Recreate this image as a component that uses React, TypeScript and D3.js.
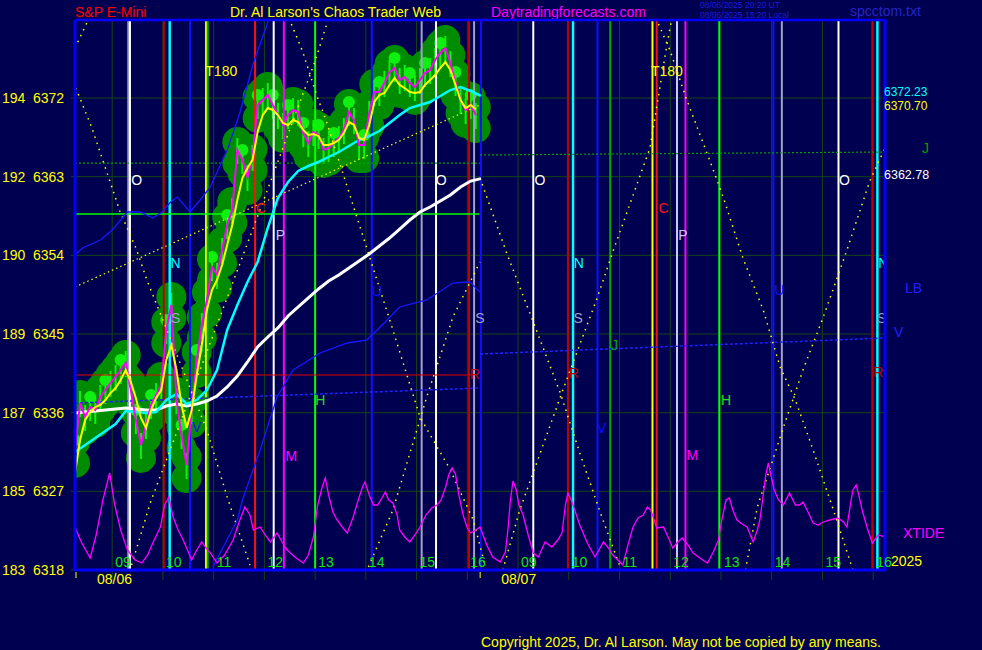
import React, { useEffect } from 'react';
import * as d3 from 'd3';

const FONT = '"Liberation Sans", Arial, Helvetica, sans-serif';
const BG = '#000050';

// ---------- time axis: minutes from 08/06 08:16, overnight gap compressed ----------
const sessionDates = ['08/06', '08/07'];
const sessionStartMin = [0, 478];
const sessionFirstHourMin = [44, 524];
const sessionHours = [9, 10, 11, 12, 13, 14, 15, 16];

// ---------- price axis ----------
const priceTicks = [6318, 6327, 6336, 6345, 6354, 6363, 6372];
const altTicks = [183, 185, 187, 189, 190, 192, 194];

// ---------- price series (6-minute steps) ----------
const priceStepMin = 6;
const closePrices = [
  6331.73, 6337.10, 6335.50, 6336.65, 6336.30, 6337.79, 6338.59, 6339.39, 6340.08, 6340.88,
  6341.68, 6338.59, 6335.16, 6332.30, 6334.59, 6336.88, 6338.02, 6339.16, 6345.46, 6348.32,
  6337.45, 6333.44, 6330.01, 6336.30, 6342.02, 6346.03, 6348.89, 6352.66, 6351.75, 6354.61,
  6357.47, 6359.19, 6366.05, 6364.91, 6362.96, 6365.25, 6371.20, 6371.77, 6372.34, 6371.20,
  6370.05, 6368.91, 6370.05, 6370.63, 6370.40, 6367.99, 6366.85, 6368.11, 6367.77, 6366.05,
  6366.28, 6366.85, 6367.42, 6368.34, 6370.40, 6369.48, 6366.62, 6366.62, 6370.28, 6372.68,
  6372.68, 6373.71, 6374.97, 6375.43, 6374.06, 6374.40, 6373.71, 6373.26, 6374.06, 6374.86,
  6375.20, 6376.35, 6377.15, 6377.72, 6376.00, 6373.83, 6371.77, 6370.63, 6371.20, 6370.05,
];
const smoothPrices = [
  6329.10, 6332.87, 6335.16, 6336.08, 6336.65, 6336.88, 6337.45, 6338.25, 6338.82, 6339.74,
  6340.88, 6339.51, 6337.68, 6335.39, 6334.25, 6336.30, 6337.68, 6338.59, 6342.02, 6343.74,
  6340.88, 6336.88, 6334.25, 6336.30, 6340.31, 6343.74, 6347.74, 6350.03, 6351.18, 6352.89,
  6355.18, 6357.47, 6360.33, 6362.85, 6363.99, 6364.91, 6368.11, 6370.05, 6370.85, 6370.63,
  6370.05, 6369.14, 6368.91, 6369.48, 6369.25, 6368.34, 6367.77, 6367.88, 6367.65, 6366.62,
  6366.62, 6366.85, 6367.19, 6367.99, 6369.25, 6368.91, 6367.42, 6367.19, 6368.91, 6371.54,
  6372.34, 6372.57, 6373.49, 6374.29, 6373.49, 6373.14, 6372.68, 6372.57, 6372.68, 6373.49,
  6374.06, 6374.63, 6375.43, 6376.12, 6375.20, 6373.49, 6371.77, 6370.85, 6371.20, 6370.70,
];

// ---------- moving averages (12-minute steps) ----------
const maStepMin = 12;
const cyanMA = [
  6331.50, 6332.30, 6333.10, 6333.90, 6334.70, 6336.19, 6336.08, 6335.96, 6336.08, 6337.45,
  6338.14, 6336.99, 6337.45, 6338.59, 6340.88, 6345.46, 6348.32, 6350.95, 6353.24, 6357.13,
  6360.56, 6362.39, 6363.65, 6364.22, 6364.68, 6365.25, 6365.82, 6366.51, 6367.19, 6367.65,
  6368.22, 6369.14, 6370.05, 6370.85, 6371.20, 6371.54, 6372.23, 6372.91, 6373.26, 6372.80, 6372.23,
];
const whiteMA = [
  6335.96, 6336.08, 6336.19, 6336.30, 6336.42, 6336.53, 6336.42, 6336.30, 6336.30, 6336.76,
  6336.99, 6336.76, 6336.99, 6337.33, 6337.91, 6338.94, 6340.19, 6341.80, 6343.51, 6344.66,
  6345.69, 6347.06, 6348.09, 6349.12, 6350.15, 6351.06, 6351.75, 6352.55, 6353.35, 6354.15,
  6355.07, 6355.98, 6357.01, 6358.04, 6358.96, 6359.53, 6360.21, 6360.90, 6361.82, 6362.50, 6362.78,
];

// ---------- blue series [minute, price] ----------
const blueLineA: [number, number][] = [
  [0, 6354.04], [9, 6354.84], [30, 6355.75], [44, 6356.90], [62, 6358.96], [77, 6358.96],
  [92, 6358.27], [103, 6358.96], [112, 6359.99], [121, 6360.67], [136, 6358.96], [148, 6360.33],
  [160, 6361.82], [180, 6366.05], [195, 6370.28], [211, 6376.00], [227, 6380.35], [232, 6382.0],
];
const blueLineB: [number, number][] = [
  [163, 6318.34], [192, 6323.72], [198, 6326.01], [219, 6331.73], [239, 6337.79], [258, 6340.88],
  [290, 6342.83], [322, 6343.97], [345, 6344.31], [361, 6345.80], [384, 6348.09], [416, 6348.89],
  [447, 6350.83], [467, 6350.95], [479, 6349.80],
];

// ---------- time/price dotted curves [minute, price] ----------
const tpCurves: [number, number][][] = [
  [[0, 6377.72], [15, 6380.81]],
  [[1, 6373.14], [20, 6368.57], [32, 6365.13], [44, 6361.70], [53, 6359.07], [73, 6354.61], [85, 6351.18], [156, 6334.02], [180, 6326.35], [207, 6318.57]],
  [[67, 6318.57], [89, 6325.67], [221, 6359.76], [284, 6376.23], [300, 6381.15]],
  [[253, 6381.15], [269, 6377.38], [287, 6372.00], [296, 6369.71], [376, 6345.46], [408, 6335.50], [444, 6329.44], [471, 6323.72], [485, 6318.57]],
  [[347, 6318.34], [376, 6324.86], [416, 6337.79], [447, 6346.94], [479, 6353.24]],
  [[479, 6362.85], [511, 6354.15], [547, 6345.11], [574, 6338.25], [597, 6331.39], [621, 6324.64], [646, 6318.0]],
  [[506, 6318.0], [526, 6324.86], [577, 6338.59], [618, 6349.23], [636, 6354.38], [680, 6366.28], [700, 6378.06], [706, 6381.15]],
  [[687, 6381.15], [704, 6377.38], [724, 6371.66], [751, 6364.79], [767, 6360.56], [790, 6353.69], [814, 6347.74], [834, 6341.22], [852, 6337.45], [873, 6331.73], [897, 6324.86], [920, 6318.0]],
  [[793, 6318.0], [807, 6325.21], [838, 6334.36], [861, 6340.88], [885, 6346.94], [913, 6354.61], [940, 6362.50], [958, 6366.28]],
];

// ---------- level segments ----------
const levelSegments = [
  { kind: 'jdots', m0: 0, p0: 6364.56, m1: 479, p1: 6364.56 },
  { kind: 'jdots', m0: 479, p0: 6365.48, m1: 958, p1: 6365.82 },
  { kind: 'lime', m0: 0, p0: 6358.73, m1: 478, p1: 6358.73 },
  { kind: 'red', m0: 0, p0: 6340.31, m1: 470, p1: 6340.31 },
  { kind: 'vdots', m0: 0, p0: 6337.10, m1: 479, p1: 6338.82 },
  { kind: 'vdots', m0: 479, p0: 6342.71, m1: 958, p1: 6344.54 },
  { kind: 'trend', m0: 0, p0: 6350.38, m1: 479, p1: 6371.20 },
];

// ---------- vertical event lines ----------
const eventLines = [
  { m: 63, kind: 'grey' }, { m: 65, kind: 'white' }, { m: 105, kind: 'darkred' }, { m: 112, kind: 'cyan' },
  { m: 136, kind: 'blue' }, { m: 155, kind: 'yellow' }, { m: 157, kind: 'green' }, { m: 213, kind: 'red' },
  { m: 235, kind: 'white' }, { m: 247, kind: 'magenta' }, { m: 284, kind: 'lime' }, { m: 351, kind: 'blue' },
  { m: 410, kind: 'grey' }, { m: 427, kind: 'white' }, { m: 466, kind: 'darkred' }, { m: 472, kind: 'grey' },
  { m: 480, kind: 'blue' },
  { m: 542, kind: 'white' }, { m: 583, kind: 'darkred' }, { m: 589, kind: 'cyan' }, { m: 618, kind: 'blue' },
  { m: 633, kind: 'green' }, { m: 683, kind: 'yellow' }, { m: 688, kind: 'red' }, { m: 712, kind: 'lavender' },
  { m: 722, kind: 'magenta' }, { m: 762, kind: 'lime' }, { m: 826, kind: 'blue' }, { m: 836, kind: 'grey' },
  { m: 903, kind: 'white' }, { m: 943, kind: 'darkred' }, { m: 949, kind: 'cyan' },
];

// ---------- letters ----------
const letters = [
  { t: 'O', m: 73, p: 6362.6, kind: 'white' }, { t: 'N', m: 119, p: 6353.1, kind: 'cyan' },
  { t: 'S', m: 119, p: 6346.8, kind: 'grey' }, { t: 'V', m: 144, p: 6334.4, kind: 'blue' },
  { t: 'T180', m: 173, p: 6375.1, kind: 'yellow' }, { t: 'C', m: 220, p: 6359.4, kind: 'red' },
  { t: 'P', m: 243, p: 6356.3, kind: 'lavender' }, { t: 'M', m: 256, p: 6331.0, kind: 'magenta' },
  { t: 'H', m: 290, p: 6337.4, kind: 'hgreen' }, { t: 'U', m: 357, p: 6349.9, kind: 'blue' },
  { t: 'O', m: 433, p: 6362.6, kind: 'white' }, { t: 'R', m: 473, p: 6340.4, kind: 'darkred' },
  { t: 'S', m: 479, p: 6346.8, kind: 'grey' },
  { t: 'O', m: 550, p: 6362.6, kind: 'white' }, { t: 'R', m: 590, p: 6340.5, kind: 'darkred' },
  { t: 'S', m: 595, p: 6346.8, kind: 'grey' }, { t: 'N', m: 596, p: 6353.1, kind: 'cyan' },
  { t: 'V', m: 623, p: 6334.2, kind: 'blue' }, { t: 'J', m: 638, p: 6343.7, kind: 'green' },
  { t: 'C', m: 696, p: 6359.4, kind: 'red' }, { t: 'T180', m: 700, p: 6375.1, kind: 'yellow' },
  { t: 'P', m: 719, p: 6356.3, kind: 'lavender' }, { t: 'M', m: 730, p: 6331.2, kind: 'magenta' },
  { t: 'H', m: 770, p: 6337.4, kind: 'hgreen' }, { t: 'U', m: 833, p: 6350.0, kind: 'blue' },
  { t: 'O', m: 910, p: 6362.6, kind: 'white' }, { t: 'R', m: 950, p: 6340.7, kind: 'darkred' },
  { t: 'S', m: 954, p: 6346.8, kind: 'grey' }, { t: 'N', m: 956, p: 6353.1, kind: 'cyan' },
];

// ---------- XTIDE oscillator ----------
const tideMinutes = [
  0, 8, 18, 25, 33, 41, 47, 54, 62, 71, 79, 86, 92, 101, 106, 111, 116, 122, 128, 134,
  138, 144, 150, 155, 160, 168, 177, 187, 195, 201, 207, 211, 219, 225, 231, 239, 245, 251, 260, 270,
  276, 282, 287, 292, 296, 300, 305, 310, 317, 322, 329, 335, 340, 343, 348, 353, 358, 363, 367, 371,
  376, 381, 384, 390, 396, 402, 408, 415, 422, 428, 433, 438, 442, 446, 450, 454, 459, 464, 468, 474,
  479, 487, 494, 503, 509, 512, 515, 518, 522, 525, 530, 536, 542, 548, 556, 564, 571, 576, 580, 583,
  587, 591, 597, 606, 615, 625, 631, 636, 642, 648, 654, 660, 666, 672, 677, 681, 688, 696, 702, 707,
  713, 718, 725, 731, 739, 748, 755, 761, 765, 770, 774, 778, 783, 789, 795, 802, 807, 810, 814, 817,
  820, 823, 827, 832, 838, 845, 852, 857, 861, 867, 873, 879, 885, 893, 902, 909, 913, 917, 920, 924,
  927, 931, 937, 943, 950, 958,
];
const tideValues = [
  43, 27, 12, 35, 70, 97, 65, 40, 20, 10, 7, 15, 27, 43, 65, 73, 53, 40, 30, 18,
  10, 20, 28, 22, 17, 7, 15, 30, 50, 63, 55, 40, 43, 35, 28, 37, 28, 20, 13, 7,
  15, 33, 65, 82, 92, 75, 58, 50, 42, 37, 53, 70, 83, 88, 75, 65, 65, 72, 78, 70,
  67, 55, 40, 33, 28, 35, 43, 55, 62, 65, 70, 82, 95, 102, 96, 75, 55, 42, 37, 40,
  43, 25, 13, 8, 18, 40, 70, 89, 80, 65, 55, 35, 17, 13, 28, 23, 30, 37, 65, 77,
  70, 60, 45, 27, 13, 28, 22, 15, 10, 5, 25, 43, 52, 55, 63, 60, 42, 43, 32, 22,
  28, 32, 25, 17, 12, 7, 18, 30, 50, 70, 72, 60, 50, 46, 43, 28, 40, 50, 75, 95,
  107, 95, 80, 70, 65, 77, 65, 65, 68, 58, 47, 45, 48, 50, 52, 48, 43, 65, 80, 85,
  75, 60, 42, 27, 35, 33,
];

// ---------- styles ----------
const lineColors: Record<string, string> = {
  grey: '#a0a0c8', white: '#ffffff', darkred: '#c00000', red: '#ff1010', cyan: '#00ffff',
  blue: '#1010ff', yellow: '#ffff00', green: '#00a800', lime: '#00ff00', magenta: '#ff00ff',
  lavender: '#c8c8ff', hgreen: '#20e020',
};

export default function App() {
  useEffect(() => {
    document.body.style.margin = '0';
    document.body.style.background = BG;
  }, []);

  const W = 982, H = 650;
  const L = 75, R = 885, T = 20, B = 570;
  const xs = d3.scaleLinear().domain([0, 958]).range([L, R]);
  const ys = d3.scaleLinear().domain([6318, 6372]).range([B, 98]);
  const ts = d3.scaleLinear().domain([0, 100]).range([B, 470]);

  const priceLine = d3.line<number>().x((_, i) => xs(i * priceStepMin)).y((d) => ys(d));
  const maLine = d3.line<number>().x((_, i) => xs(i * maStepMin)).y((d) => ys(d));
  const ptLine = d3.line<[number, number]>().x((d) => xs(d[0])).y((d) => ys(d[1]));
  const tideLine = d3.line<number>().x((_, i) => xs(tideMinutes[i])).y((d) => ts(d));

  const hourMarks: { m: number; label: string }[] = [];
  sessionFirstHourMin.forEach((base) => {
    sessionHours.forEach((h, k) => hourMarks.push({ m: base + k * 60, label: String(h).padStart(2, '0') }));
  });

  const segStyle = (kind: string) => {
    switch (kind) {
      case 'jdots': return { stroke: '#00a000', dash: '2,2', w: 1.2 };
      case 'lime': return { stroke: '#00ff00', dash: undefined, w: 1.5 };
      case 'red': return { stroke: '#e00000', dash: undefined, w: 1.2 };
      case 'vdots': return { stroke: '#2020ff', dash: '3,2', w: 1.5 };
      default: return { stroke: '#ffff00', dash: '1.5,3', w: 1.2 };
    }
  };

  return (
    <svg width={W} height={H} style={{ position: 'absolute', left: 0, top: 0, display: 'block' }} fontFamily={FONT}>
      <defs>
        <clipPath id="plotClip">
          <rect x={L} y={T} width={R - L} height={B - T} />
        </clipPath>
      </defs>
      <rect x={0} y={0} width={W} height={H} fill={BG} />

      {/* header */}
      <text x={75} y={17} fontSize={14} fill="#ff0000">S&amp;P E-Mini</text>
      <text x={230} y={17} fontSize={14} fill="#ffff00">Dr. Al Larson's Chaos Trader Web</text>
      <text x={491} y={17} fontSize={14} fill="#ff00ff">Daytradingforecasts.com</text>
      <text x={700} y={8} fontSize={8.5} fill="#1c1cdc">08/06/2025 20:20 UT</text>
      <text x={700} y={18} fontSize={8.5} fill="#1c1cdc">08/06/2025 15:20 Local</text>
      <text x={850} y={16} fontSize={14} fill="#2424c8">spcctom.txt</text>

      {/* grid */}
      {priceTicks.map((p) => (
        <line key={'pg' + p} x1={71} x2={R} y1={ys(p)} y2={ys(p)} stroke="#144414" strokeWidth={1} />
      ))}
      {hourMarks.map((h, i) => (
        <line key={'hg' + i} x1={xs(h.m)} x2={xs(h.m)} y1={T} y2={580} stroke="#144414" strokeWidth={1} />
      ))}

      <g clipPath="url(#plotClip)">
        {/* price halo */}
        {closePrices.map((p, i) => {
          const x = xs(i * priceStepMin), y = ys(p);
          return (
            <g key={'hd' + i}>
              <circle cx={x} cy={y - 8} r={15} fill="#008c00" />
              <circle cx={x} cy={y + 13} r={15} fill="#008c00" />
            </g>
          );
        })}
        {closePrices.map((p, i) => {
          const x = xs(i * priceStepMin), y = ys(p);
          return (
            <g key={'hl' + i}>
              <rect x={x - 1} y={y - 12} width={2} height={26} fill="#10f010" />
              {i % 3 === 0 ? <circle cx={x} cy={y - 10} r={6} fill="#10f010" /> : null}
            </g>
          );
        })}

        {/* event lines */}
        {eventLines.map((e, i) => (
          <line key={'ev' + i} x1={xs(e.m)} x2={xs(e.m)} y1={T} y2={B} stroke={lineColors[e.kind]}
            strokeWidth={e.kind === 'cyan' ? 2.5 : 2} />
        ))}

        {/* level segments */}
        {levelSegments.map((s, i) => {
          const st = segStyle(s.kind);
          return (
            <line key={'lv' + i} x1={xs(s.m0)} x2={xs(s.m1)} y1={ys(s.p0)} y2={ys(s.p1)}
              stroke={st.stroke} strokeWidth={st.w} strokeDasharray={st.dash} />
          );
        })}

        {/* time-price curves */}
        {tpCurves.map((c, i) => (
          <path key={'tp' + i} d={ptLine(c) || ''} fill="none" stroke="#ffff00" strokeWidth={1.5}
            strokeDasharray="1.5,5" />
        ))}

        {/* blue lines */}
        <path d={ptLine(blueLineA) || ''} fill="none" stroke="#1818ff" strokeWidth={1.3} />
        <path d={ptLine(blueLineB) || ''} fill="none" stroke="#1818ff" strokeWidth={1.3} />

        {/* tide */}
        <path d={tideLine(tideValues) || ''} fill="none" stroke="#ff00ff" strokeWidth={1.3} />

        {/* moving averages & price */}
        <path d={maLine(whiteMA) || ''} fill="none" stroke="#ffffff" strokeWidth={3} />
        <path d={maLine(cyanMA) || ''} fill="none" stroke="#00ffff" strokeWidth={2.5} />
        <path d={priceLine(closePrices) || ''} fill="none" stroke="#ff00ff" strokeWidth={2} />
        <path d={priceLine(smoothPrices) || ''} fill="none" stroke="#ffff00" strokeWidth={2} />

        {/* letters */}
        {letters.map((l, i) => (
          <text key={'lt' + i} x={xs(l.m)} y={ys(l.p) + 5} fontSize={14} textAnchor="middle"
            fill={lineColors[l.kind]}>{l.t}</text>
        ))}
      </g>

      {/* frame */}
      <line x1={L} x2={R} y1={T} y2={T} stroke="#0000ff" strokeWidth={2.5} />
      <line x1={L} x2={L} y1={T} y2={B + 1} stroke="#0000ff" strokeWidth={3} />
      <line x1={R} x2={R} y1={T} y2={B + 1} stroke="#0000ff" strokeWidth={3} />
      <line x1={L} x2={R + 1} y1={B} y2={B} stroke="#0000ff" strokeWidth={3} />

      {/* y labels */}
      {priceTicks.map((p, i) => (
        <g key={'yl' + p}>
          <text x={2} y={ys(p) + 5} fontSize={14} fill="#ffff00">{altTicks[i]}</text>
          <text x={33} y={ys(p) + 5} fontSize={14} fill="#ffff00">{p}</text>
        </g>
      ))}

      {/* hour labels */}
      {hourMarks.map((h, i) => (
        <text key={'hl' + i} x={xs(h.m) + 3} y={567} fontSize={14} fill="#10e010">{h.label}</text>
      ))}
      {sessionDates.map((d, i) => (
        <g key={'sd' + i}>
          <line x1={xs(sessionStartMin[i]) + 1} x2={xs(sessionStartMin[i]) + 1} y1={572} y2={578} stroke="#ffff00" strokeWidth={1} />
          <text x={xs(sessionStartMin[i]) + 22} y={584} fontSize={14} fill="#ffff00">{d}</text>
        </g>
      ))}

      {/* right margin */}
      <text x={884} y={96} fontSize={12} fill="#00ffff">{cyanMA[cyanMA.length - 1].toFixed(2)}</text>
      <text x={884} y={110} fontSize={12} fill="#ffff00">{smoothPrices[smoothPrices.length - 1].toFixed(2)}</text>
      <text x={884} y={179} fontSize={12.5} fill="#ffffff">{whiteMA[whiteMA.length - 1].toFixed(2)}</text>
      <text x={922} y={153} fontSize={14} fill="#00a000">J</text>
      <text x={905} y={293} fontSize={14} fill="#2020ff">LB</text>
      <text x={894} y={337} fontSize={14} fill="#2020ff">V</text>
      <text x={903} y={538} fontSize={14} fill="#ff00ff">XTIDE</text>
      <text x={891} y={566} fontSize={14} fill="#ffff00">2025</text>

      <text x={481} y={647} fontSize={14} fill="#ffff00">Copyright 2025, Dr. Al Larson. May not be copied by any means.</text>
    </svg>
  );
}
